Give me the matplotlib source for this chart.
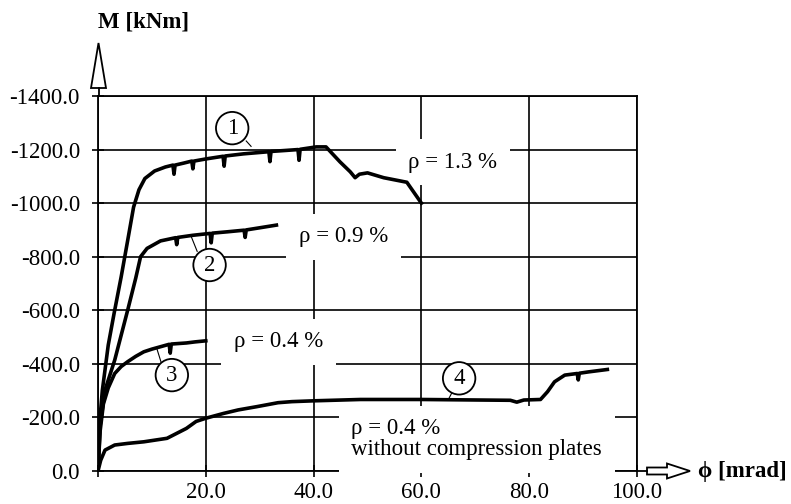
import numpy as np
import matplotlib
matplotlib.use("Agg")
import matplotlib.pyplot as plt
from matplotlib.patches import Polygon

plt.rcParams['font.family'] = ['Liberation Serif', 'DejaVu Serif']
plt.rcParams['axes.unicode_minus'] = False

# curve 1 : rho = 1.3 %
phi1 = [0, 0.3, 0.8, 1.9, 3.0, 4.3, 5.5, 6.6, 7.6, 8.7, 10.5, 12.5, 13.9, 14.1, 14.3,
        16.0, 17.4, 17.6, 17.8, 20.0, 23.2, 23.4, 23.6, 27.0, 31.7, 31.9, 32.1, 35.0,
        37.1, 37.3, 37.5, 40.5, 42.3, 44.9, 46.8, 47.7, 48.5, 50.0, 53.0, 57.3, 60.0]
M1 = [0, -180, -300, -470, -590, -725, -860, -985, -1050, -1092, -1120, -1135, -1142, -1108, -1142,
      -1150, -1157, -1128, -1157, -1165, -1175, -1138, -1176, -1184, -1192, -1155, -1193, -1197,
      -1200, -1160, -1201, -1210, -1210, -1154, -1117, -1095, -1108, -1113, -1095, -1078, -1000]

# curve 2 : rho = 0.9 %
phi2 = [0, 0.4, 1.3, 3.1, 5.5, 7.0, 7.9, 9.1, 11.6, 14.4, 14.6, 14.8, 17.6, 20.8, 21.0, 21.2,
        24.0, 27.1, 27.3, 27.5, 30.0, 33.1]
M2 = [0, -170, -302, -414, -600, -720, -800, -831, -859, -871, -845, -872, -880, -887, -852, -888,
      -893, -899, -872, -900, -908, -918]

# curve 3 : rho = 0.4 %
phi3 = [0, 0.4, 1.0, 1.9, 3.1, 4.3, 5.5, 7.0, 8.5, 10.0, 11.6, 13.2, 13.4, 13.6, 15.0, 16.4, 18.0, 20.0]
M3 = [0, -150, -250, -310, -364, -390, -408, -428, -445, -455, -464, -473, -440, -474, -476, -478, -482, -486]

# curve 4 : rho = 0.4 %, without compression plates
phi4 = [0, 0.5, 1.3, 3.1, 5.5, 8.5, 12.8, 16.4, 18.2, 20.0, 23.3, 26.0, 29.4, 33.4, 36.0, 40.0,
        48.7, 60.0, 70.7, 76.5, 77.7, 79.0, 82.1, 83.4, 84.7, 86.6, 88.9, 89.1, 89.3, 91.0, 94.5]
M4 = [0, -40, -78, -97, -103, -109, -122, -159, -185, -197, -215, -228, -240, -255, -259, -262,
      -267, -267, -265, -264, -257, -265, -267, -296, -333, -358, -364, -340, -365, -370, -379]

x_ticks = [0, 20, 40, 60, 80, 100]
x_labels = ['', '20.0', '40.0', '60.0', '80.0', '100.0']
y_ticks = [0, -200, -400, -600, -800, -1000, -1200, -1400]

# labels: text, phi, M
rho_labels = [('ρ = 1.3 %', 57.6, -1153),
              ('ρ = 0.9 %', 37.3, -874),
              ('ρ = 0.4 %', 25.2, -482),
              ('ρ = 0.4 %\nwithout compression plates', 47.0, -119)]
# circled numbers: text, phi, M, leader line (phi0, M0, phi1, M1)
circles = [('1', 24.9, -1280, (27.5, -1232, 28.4, -1212)),
           ('2', 20.7, -769, (18.4, -820, 17.3, -875)),
           ('3', 13.7, -358, (11.8, -400, 10.9, -458)),
           ('4', 67.0, -346, (65.6, -290, 65.0, -267))]

fs = 16.5
W, H = 791, 504
fig = plt.figure(figsize=(W / 100, H / 100), dpi=100)
ax = fig.add_axes([98 / W, 1 - 471 / H, 539 / W, 375 / H])

lw = 2.6
ax.plot(phi1, M1, c='k', lw=lw, zorder=4, solid_joinstyle='round')
ax.plot(phi2, M2, c='k', lw=lw, zorder=4, solid_joinstyle='round')
ax.plot(phi3, M3, c='k', lw=lw, zorder=4, solid_joinstyle='round')
ax.plot(phi4, M4, c='k', lw=lw, zorder=4, solid_joinstyle='round')

ax.set_xlim(0, 100)
ax.set_ylim(0, -1400)
ax.set_xticks(x_ticks)
ax.set_xticklabels(x_labels)
ax.set_yticks(y_ticks)
ax.set_yticklabels([f'{v:.1f}' for v in y_ticks])
ax.tick_params(direction='inout', length=8, width=1.2, labelsize=fs)
ax.tick_params(axis='y', pad=9)
ax.tick_params(axis='x', pad=4)
ax.grid(True, color='k', lw=1.2)
ax.set_axisbelow(True)
for s in ax.spines.values():
    s.set_linewidth(1.3)

for txt, x, y in rho_labels:
    ax.text(x, y, txt, fontsize=fs, ha='left', va='center', linespacing=1.0, zorder=3,
            bbox=dict(fc='white', ec='none', pad=9))

for txt, x, y, (a0, b0, a1, b1) in circles:
    ax.plot([a0, a1], [b0, b1], c='k', lw=0.8, zorder=3)
    ax.text(x, y, txt, fontsize=fs, ha='center', va='center', zorder=5,
            bbox=dict(boxstyle='circle,pad=0.25', fc='white', ec='k', lw=1.3))


def px(xp, yp):
    return (xp / W, 1 - yp / H)


# axis arrows
fig.add_artist(plt.Line2D([98.5 / W, 98.5 / W], [1 - 96 / H, 1 - 88 / H], c='k', lw=1.3))
fig.add_artist(Polygon([px(98.5, 43), px(91, 88), px(106, 88)], closed=True,
                       fc='white', ec='k', lw=1.3))
fig.add_artist(plt.Line2D([637 / W, 647 / W], [1 - 471 / H, 1 - 471 / H], c='k', lw=1.3))
fig.add_artist(Polygon([px(647, 467.5), px(667, 467.5), px(667, 463.5), px(690, 471),
                        px(667, 478.5), px(667, 474.5), px(647, 474.5)], closed=True,
                       fc='white', ec='k', lw=1.3))

fig.text(98 / W, 1 - 22 / H, 'M [kNm]', fontsize=fs, fontweight='bold', ha='left', va='center')
fig.text(698 / W, 1 - 471 / H, 'ϕ [mrad]', fontsize=fs, fontweight='bold', ha='left', va='center')

fig.savefig('out.png', dpi=100)
